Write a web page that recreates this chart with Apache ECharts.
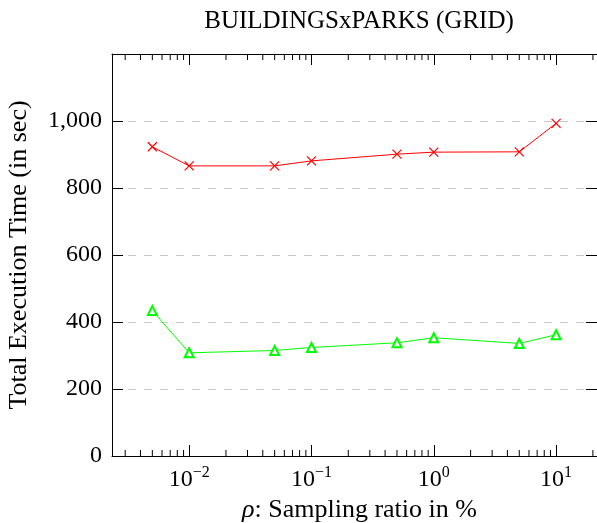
<!DOCTYPE html>
<html>
<head>
<meta charset="utf-8">
<script src="https://cdn.jsdelivr.net/npm/echarts@6/dist/echarts.min.js"></script>
<style>
html,body{margin:0;padding:0;background:#fff;}
#chart{width:597px;height:523px;}
</style>
</head>
<body>
<div id="chart"></div>
<script>
// Data
var sampling = [0.005, 0.01, 0.05, 0.1, 0.5, 1, 5, 10];
var seriesRed = [923, 866, 866, 881, 901, 907, 908, 993];
var seriesGreen = [434, 308, 315, 324, 338, 353, 336, 362];
var yTicks = [0, 200, 400, 600, 800, 1000];

var X_MIN = 0.00234, X_MAX = 21.6;
var Y_MIN = 0, Y_MAX = 1200;
var FONT = 'Liberation Serif';

// minor tick positions (2..9 x 10^d)
var minorTicks = [];
for (var d = -3; d <= 1; d++) {
  for (var m = 2; m <= 9; m++) {
    var v = m * Math.pow(10, d);
    if (v > X_MIN && v < X_MAX) minorTicks.push(v);
  }
}

function pair(xs, ys) { return xs.map(function (x, i) { return [x, ys[i]]; }); }

function xLabel(v) {
  var e = Math.round(Math.log10(v));
  var p = Math.pow(10, e);
  if (Math.abs(v - p) / p > 1e-6) return '';
  var s = e < 0 ? '\u2212' + (-e) : String(e);
  return '{b|10}{s|' + s + '}';
}

var chart = echarts.init(document.getElementById('chart'), null, {renderer: 'canvas'});
var axisLineStyle = {color: '#000', width: 1};

chart.setOption({
  animation: false,
  backgroundColor: '#fff',
  title: {
    text: 'BUILDINGSxPARKS (GRID)',
    left: 354, textAlign: 'center', top: 4,
    textStyle: {fontFamily: FONT, fontSize: 25, fontWeight: 'normal', color: '#000'}
  },
  grid: {left: 112, right: 0, top: 54, bottom: 67, containLabel: false, outerBoundsMode: 'none'},
  xAxis: [{
    type: 'log', logBase: 10, min: X_MIN, max: X_MAX, position: 'bottom',
    axisLine: {show: true, onZero: false, lineStyle: axisLineStyle},
    axisTick: {show: true, inside: true, length: 11, lineStyle: axisLineStyle},
    splitLine: {show: false},
    axisLabel: {
      show: true, margin: 9, showMinLabel: false, showMaxLabel: false,
      formatter: xLabel,
      rich: {
        b: {fontFamily: FONT, fontSize: 24, color: '#000', lineHeight: 27, verticalAlign: 'bottom'},
        s: {fontFamily: FONT, fontSize: 16, color: '#000', lineHeight: 16, verticalAlign: 'top'}
      }
    },
    name: '{i|\u03C1}: Sampling ratio in %',
    nameLocation: 'middle', nameGap: 40,
    nameTextStyle: {
      fontFamily: FONT, fontSize: 26, color: '#000', padding: [0, 0, 0, 10],
      rich: {i: {fontFamily: FONT, fontSize: 26, fontStyle: 'italic', color: '#000'}}
    }
  }, {
    type: 'log', logBase: 10, min: X_MIN, max: X_MAX, position: 'top',
    axisLine: {show: true, onZero: false, lineStyle: axisLineStyle},
    axisTick: {show: true, inside: true, length: 11, lineStyle: axisLineStyle},
    axisLabel: {show: false},
    splitLine: {show: false}
  }],
  yAxis: [{
    type: 'value', min: Y_MIN, max: Y_MAX, interval: 200, position: 'left',
    axisLine: {show: true, onZero: false, lineStyle: axisLineStyle},
    axisTick: {show: true, inside: true, length: 11, lineStyle: axisLineStyle},
    splitLine: {show: true, lineStyle: {color: '#c8c8c8', width: 1, type: [8, 8]}},
    axisLabel: {
      margin: 10, fontFamily: FONT, fontSize: 24, color: '#000',
      formatter: function (v) {
        if (yTicks.indexOf(v) < 0) return '';
        return v >= 1000 ? Math.floor(v / 1000) + ',' + String(v % 1000).padStart(3, '0') : String(v);
      }
    },
    name: 'Total Execution Time (in sec)',
    nameLocation: 'middle', nameGap: 80, nameRotate: 90,
    nameTextStyle: {fontFamily: FONT, fontSize: 26, color: '#000'}
  }, {
    type: 'value', min: Y_MIN, max: Y_MAX, interval: 200, position: 'right',
    axisLine: {show: true, onZero: false, lineStyle: axisLineStyle},
    axisTick: {show: true, inside: true, length: 11, lineStyle: axisLineStyle},
    axisLabel: {show: false},
    splitLine: {show: false}
  }],
  series: [{
    type: 'custom',
    xAxisIndex: 0, yAxisIndex: 0,
    silent: true, clip: false, z: 3,
    data: minorTicks.map(function (v) { return [v, Y_MIN]; }),
    renderItem: function (params, api) {
      var b = api.coord([api.value(0), Y_MIN]);
      var t = api.coord([api.value(0), Y_MAX]);
      return {
        type: 'group',
        children: [
          {type: 'line', shape: {x1: b[0], y1: b[1], x2: b[0], y2: b[1] - 6}, style: {stroke: '#000', lineWidth: 1}},
          {type: 'line', shape: {x1: t[0], y1: t[1], x2: t[0], y2: t[1] + 6}, style: {stroke: '#000', lineWidth: 1}}
        ]
      };
    }
  }, {
    type: 'line', name: 'red',
    xAxisIndex: 0, yAxisIndex: 0,
    data: pair(sampling, seriesRed),
    symbol: 'path://M0,0L10,10M10,0L0,10',
    symbolSize: 9,
    lineStyle: {color: '#ff0000', width: 1},
    itemStyle: {color: '#ff0000', borderColor: '#ff0000', borderWidth: 1.2},
    z: 5
  }, {
    type: 'line', name: 'green',
    xAxisIndex: 0, yAxisIndex: 0,
    data: pair(sampling, seriesGreen),
    symbol: 'emptyTriangle',
    symbolSize: 9,
    lineStyle: {color: '#00ff00', width: 1},
    itemStyle: {color: '#00ff00', borderColor: '#00ff00', borderWidth: 1},
    z: 5
  }]
});
</script>
</body>
</html>
